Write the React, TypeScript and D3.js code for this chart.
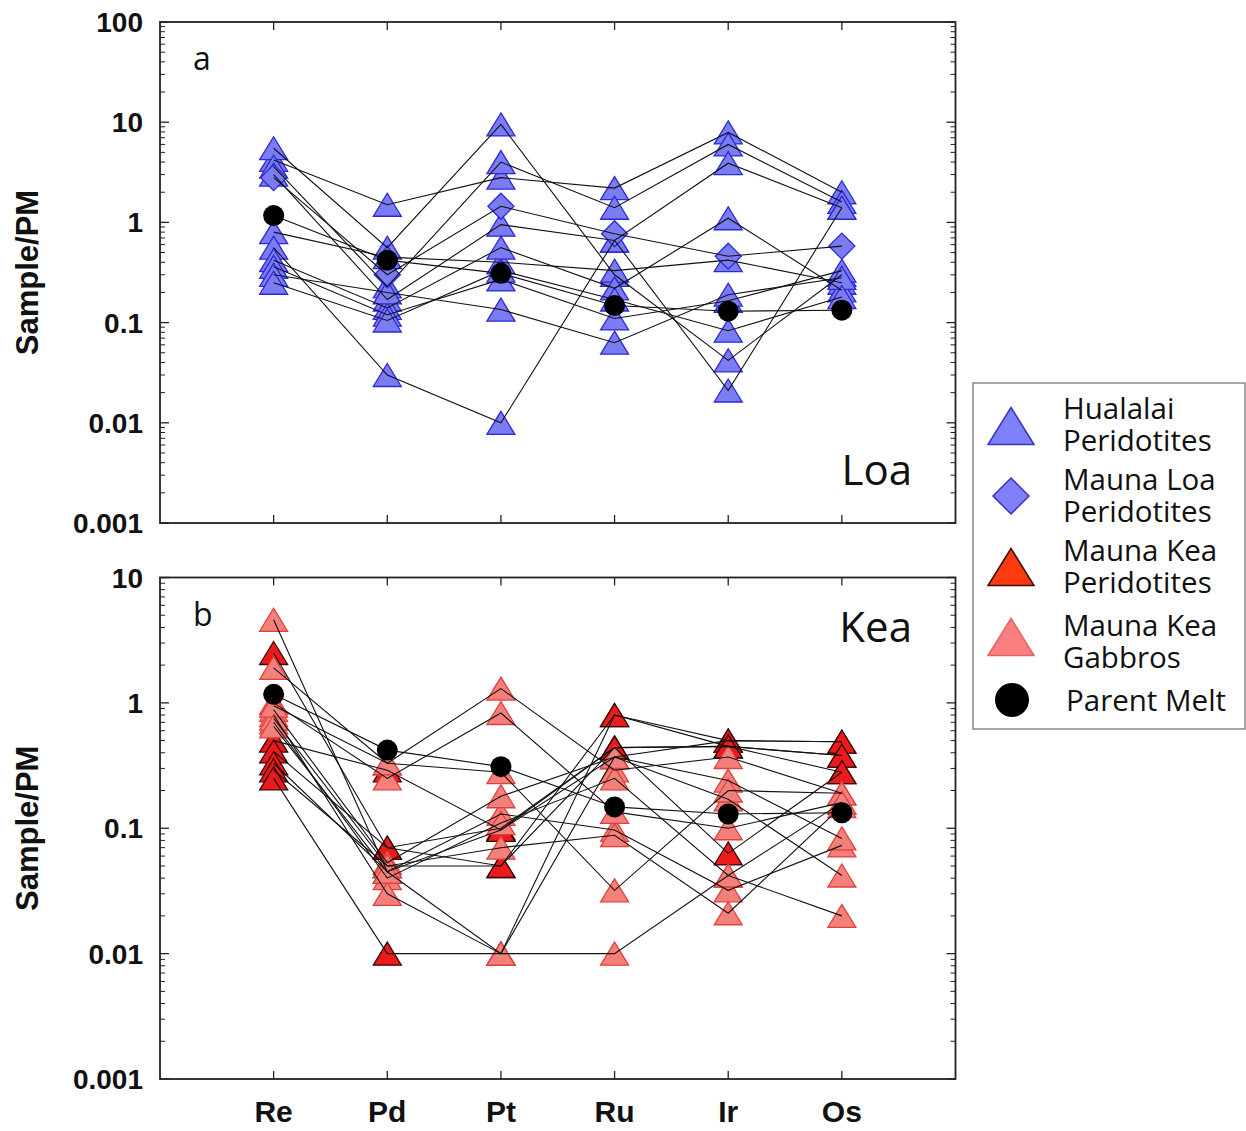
import React from "react";
import * as d3 from "d3";

const elements = ["Re", "Pd", "Pt", "Ru", "Ir", "Os"];
const tickLabelsTop = ["100", "10", "1", "0.1", "0.01", "0.001"];
const tickLabelsBottom = ["10", "1", "0.1", "0.01", "0.001"];

// Panel a (Loa)
const hualalai = [
  [4.2, 1.5, 2.8, 2.2, 7.9, 2.0],
  [5.5, 0.56, 9.5, 0.3, 0.042, 0.3],
  [3.6, 0.23, 4.0, 1.4, 6.0, 1.6],
  [3.0, 0.17, 0.95, 0.66, 3.9, 1.4],
  [0.8, 0.45, 0.4, 0.33, 0.42, 0.25],
  [0.56, 0.03, 0.01, 0.66, 0.021, 1.4],
  [0.42, 0.14, 0.56, 0.22, 1.1, 0.21],
  [0.36, 0.12, 0.27, 0.11, 0.165, 0.33],
  [0.3, 0.2, 0.135, 0.063, 0.19, 0.28],
  [0.25, 0.105, 0.33, 0.17, 0.083, 0.18],
];
const maunaLoa = [[2.8, 0.3, 1.45, 0.77, 0.46, 0.58]];

// Panel b (Kea)
const maunaKeaPeridotites = [
  [2.5, 0.07, 0.05, 0.8, 0.5, 0.49],
  [0.5, 0.29, 0.097, 0.44, 0.45, 0.38],
  [0.41, 0.07, 0.1, 0.44, 0.063, 0.28],
  [0.33, 0.045, 0.097, 0.37, 0.5, 0.49],
  [0.29, 0.05, 0.05, 0.44, 0.45, 0.38],
  [0.25, 0.01, 0.01, 0.8, 0.45, 0.28],
];
const maunaKeaGabbros = [
  [4.6, 0.045, 0.13, 0.097, 0.032, 0.073],
  [1.9, 0.33, 1.3, 0.29, 0.37, 0.19],
  [1.0, 0.25, 0.83, 0.135, 0.1, 0.16],
  [0.88, 0.053, 0.18, 0.37, 0.24, 0.083],
  [0.7, 0.04, 0.11, 0.25, 0.042, 0.02],
  [0.8, 0.03, 0.01, 0.37, 0.17, 0.042],
  [0.75, 0.05, 0.07, 0.088, 0.021, 0.15],
  [0.95, 0.33, 0.28, 0.032, 0.2, 0.19],
  [0.65, 0.045, 0.01, 0.01, 0.042, 0.16],
];
const parentMelt = [1.17, 0.42, 0.31, 0.148, 0.13, 0.133];

const legendLabels = [
  ["Hualalai", "Peridotites"],
  ["Mauna Loa", "Peridotites"],
  ["Mauna Kea", "Peridotites"],
  ["Mauna Kea", "Gabbros"],
  ["Parent Melt"],
];

const STY = {
  hual: { fill: "#7b7bf2", stroke: "#2a2ad6" },
  loa: { fill: "#7b7bf2", stroke: "#2a2ad6" },
  mkp: { fill: "#ec1a1a", stroke: "#3a0505" },
  mkg: { fill: "#f4807c", stroke: "#e0403c" },
};

const tri = (w, h) => `M0,${-h / 2}L${w / 2},${h / 2}L${-w / 2},${h / 2}Z`;
const dia = (r) => `M0,${-r}L${r},0L0,${r}L${-r},0Z`;

const X0 = 160;
const X1 = 955.5;
const x = d3.scaleLinear().domain([-1, elements.length]).range([X0, X1]);
const labelFont = "'Liberation Sans', Arial, sans-serif";
const textFont = "'Open Sans', 'Noto Sans', sans-serif";

function Panel({ y0, y1, top, labels, groups, letter, name, nameY, showX }) {
  const y = d3.scaleLog().domain([0.001, top]).range([y1, y0]);
  const line = d3
    .line()
    .x((d, i) => x(i))
    .y((d) => y(d));
  const decades = labels.map((l) => +l);
  const minors = [];
  decades.forEach((dv) => {
    if (dv >= top) return;
    for (let k = 2; k <= 9; k++) minors.push(dv * k);
  });
  const all = groups.flatMap((g) => g.data.map((s) => ({ s, g })));
  return (
    <g>
      {groups.map((g, gi) =>
        g.data.map((s, si) =>
          s.map((v, i) => (
            <path
              key={`m${gi}-${si}-${i}`}
              d={g.shape === "dia" ? dia(13) : tri(28, 23)}
              transform={`translate(${x(i)},${y(v)})`}
              fill={STY[g.key].fill}
              stroke={STY[g.key].stroke}
              strokeWidth={1.3}
            />
          ))
        )
      )}
      {all.map((o, k) => (
        <path key={`l${k}`} d={line(o.s)} fill="none" stroke="#111" strokeWidth={1.1} />
      ))}
      <path d={line(parentMelt)} fill="none" stroke="#111" strokeWidth={1.1} />
      {parentMelt.map((v, i) => (
        <circle key={`p${i}`} cx={x(i)} cy={y(v)} r={10.5} fill="#000" />
      ))}
      <rect x={X0} y={y0} width={X1 - X0} height={y1 - y0} fill="none" stroke="#222" strokeWidth={1.8} />
      {decades.map((dv) => (
        <g key={`d${dv}`}>
          <line x1={X0} x2={X0 + 9} y1={y(dv)} y2={y(dv)} stroke="#222" strokeWidth={1.3} />
          <line x1={X1} x2={X1 - 9} y1={y(dv)} y2={y(dv)} stroke="#222" strokeWidth={1.3} />
        </g>
      ))}
      {minors.map((mv) => (
        <g key={`n${mv}`}>
          <line x1={X0} x2={X0 + 5} y1={y(mv)} y2={y(mv)} stroke="#222" strokeWidth={1} />
          <line x1={X1} x2={X1 - 5} y1={y(mv)} y2={y(mv)} stroke="#222" strokeWidth={1} />
        </g>
      ))}
      {elements.map((e, i) => (
        <g key={`xt${e}`}>
          <line x1={x(i)} x2={x(i)} y1={y0} y2={y0 + 8} stroke="#222" strokeWidth={1.3} />
          <line x1={x(i)} x2={x(i)} y1={y1} y2={y1 - 8} stroke="#222" strokeWidth={1.3} />
          {showX && (
            <text x={x(i)} y={y1 + 43} textAnchor="middle" fontFamily={labelFont} fontWeight="bold" fontSize={30} fill="#111">
              {e}
            </text>
          )}
        </g>
      ))}
      {labels.map((l) => (
        <text
          key={`yl${l}`}
          x={143}
          y={y(+l)}
          dy="0.36em"
          textAnchor="end"
          fontFamily={labelFont}
          fontWeight="bold"
          fontSize={28}
          fill="#111"
        >
          {l}
        </text>
      ))}
      <text
        transform={`translate(38,${(y0 + y1) / 2}) rotate(-90)`}
        textAnchor="middle"
        fontFamily={labelFont}
        fontWeight="bold"
        fontSize={31}
        fill="#111"
      >
        Sample/PM
      </text>
      <text x={193} y={y0 + 48} fontFamily={textFont} fontSize={32} fill="#111">
        {letter}
      </text>
      <text x={912} y={nameY} textAnchor="end" fontFamily={textFont} fontSize={42} fill="#111">
        {name}
      </text>
    </g>
  );
}

function Legend() {
  const lx = 973;
  const ly = 383;
  const rows = [
    { shape: "tri", key: "hual", cy: 426, t: 408 },
    { shape: "dia", key: "loa", cy: 496, t: 479 },
    { shape: "tri", key: "mkp", cy: 567, t: 550 },
    { shape: "tri", key: "mkg", cy: 637, t: 625 },
    { shape: "circ", key: "pm", cy: 700, t: 700 },
  ];
  const legendFill = { hual: "#7f7ff7", loa: "#7f7ff7", mkp: "#ff3a10", mkg: "#f88080" };
  const legendStroke = { hual: "#3434cc", loa: "#3434cc", mkp: "#3a0a00", mkg: "#e86060" };
  return (
    <g>
      <rect x={lx} y={ly} width={272} height={346} fill="#fff" stroke="#777" strokeWidth={1.3} />
      {rows.map((r, i) => (
        <g key={i}>
          {r.shape === "circ" ? (
            <circle cx={1012} cy={r.cy} r={17} fill="#000" />
          ) : (
            <path
              d={r.shape === "dia" ? dia(18) : tri(46, 37)}
              transform={`translate(${1011},${r.cy})`}
              fill={legendFill[r.key]}
              stroke={legendStroke[r.key]}
              strokeWidth={1.5}
            />
          )}
          <text fontFamily={textFont} fontSize={29.5} fill="#111">
            {legendLabels[i].map((t, j) => (
              <tspan key={j} x={i === 4 ? 1066 : 1063} y={r.t + j * 32} dy="0.36em">
                {t}
              </tspan>
            ))}
          </text>
        </g>
      ))}
    </g>
  );
}

export default function App() {
  return (
    <svg width={1246} height={1131} style={{ display: "block", position: "absolute", left: 0, top: 0, background: "#fff" }}>
      <rect width={1246} height={1131} fill="#fff" />
      <Panel
        y0={22}
        y1={523}
        top={100}
        labels={tickLabelsTop}
        groups={[
          { key: "hual", shape: "tri", data: hualalai },
          { key: "loa", shape: "dia", data: maunaLoa },
        ]}
        letter="a"
        name="Loa"
        nameY={485}
        showX={false}
      />
      <Panel
        y0={577.5}
        y1={1079}
        top={10}
        labels={tickLabelsBottom}
        groups={[
          { key: "mkp", shape: "tri", data: maunaKeaPeridotites },
          { key: "mkg", shape: "tri", data: maunaKeaGabbros },
        ]}
        letter="b"
        name="Kea"
        nameY={642}
        showX={true}
      />
      <Legend />
    </svg>
  );
}
